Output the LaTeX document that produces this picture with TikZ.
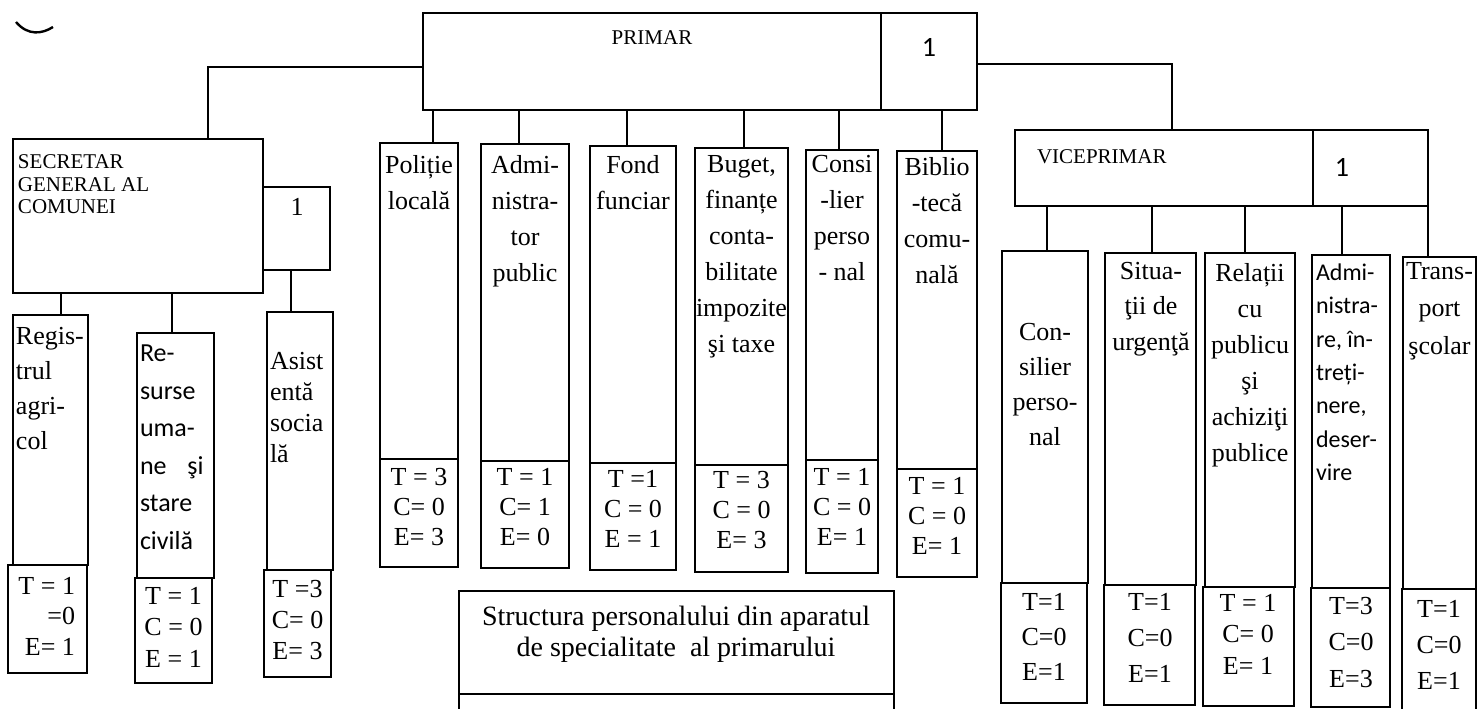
\documentclass[tikz,border=0pt]{standalone}
\usepackage{fontspec}
\setmainfont{Liberation Serif}
\newfontfamily\calfont{Carlito}
\usetikzlibrary{fit}
\newcommand{\bxnode}[5]{\node[bx, fit={(#2,#3) (#4,#5)}] (#1) {};}
\begin{document}
\begin{tikzpicture}[x=0.5pt,y=-0.5pt,
  bx/.style={draw, line width=1pt, inner sep=0pt, outer sep=0pt},
  ln/.style={line width=1.1pt},
  tx/.style={inner sep=0pt, outer sep=0pt, font=\fontsize{13pt}{#1}\selectfont},
  tx/.default=18pt,
  sx/.style={inner sep=0pt, outer sep=0pt, font=\calfont\fontsize{13pt}{#1}\selectfont},
  sx/.default=18pt,
  lbl/.style={inner sep=0pt, outer sep=0pt, font=\fontsize{10.5pt}{11.25pt}\selectfont},
  one/.style={inner sep=0pt, outer sep=0pt, font=\calfont\fontsize{14pt}{14pt}\selectfont}]
\useasboundingbox (0,0) rectangle (1478,708);

% small mark
\draw[line width=1.2pt] (16,22) .. controls (28,36) and (42,34) .. (53,27);

% PRIMAR
\bxnode{prim}{423}{13}{881}{110}
\bxnode{primn}{881}{13}{977}{110}
\node[lbl] (primt) at (652,38) {PRIMAR};
\node[one] (primnt) at (929,47) {1};

% SECRETAR
\bxnode{sec}{13}{139}{263}{293}
\bxnode{secn}{263}{187}{330}{270}
\node[lbl, align=left, anchor=north west] (sect) at (18,155) {SECRETAR\\GENERAL AL\\COMUNEI};
\node[tx] (secnt) at (297,207) {1};

\coordinate (lk) at (208,67);
\draw[ln] (lk -| prim.west) -- (lk) -- (lk |- sec.north);

% Registrul
\bxnode{reg}{13}{315}{88}{565}
\bxnode{regv}{8}{565}{87}{673}
\node[tx=17.5pt, align=left, anchor=north west] (regt) at (16,327) {Regis-\\trul\\agri-\\col};
\node[tx=15.25pt, align=right, anchor=north east] (regvt) at (75,577) {T = 1\\=0\\E= 1};

% Resurse
\bxnode{res}{137}{333}{214}{578}
\bxnode{resv}{135}{578}{212}{683}
\node[sx=18.75pt, align=left, anchor=north west] (rest) at (140,345) {Re-\\surse\\uma-\\ne\hspace{0.8em}şi\\stare\\civilă};
\node[tx=15.75pt, align=center, anchor=north] (resvt) at (173.5,587) {T = 1\\C = 0\\E = 1};

% Asistenta
\bxnode{asi}{267}{312}{333}{570}
\bxnode{asiv}{264}{570}{331}{677}
\node[tx=15.5pt, align=left, anchor=north west] (asit) at (270,352) {Asist\\entă\\socia\\lă};
\node[tx=15.5pt, align=center, anchor=north] (asivt) at (297.5,580) {T =3\\C= 0\\E= 3};

\coordinate (c1) at (61,0);
\coordinate (c2) at (172,0);
\coordinate (c3) at (291,0);
\draw[ln] (c1 |- sec.south) -- (c1 |- reg.north);
\draw[ln] (c2 |- sec.south) -- (c2 |- res.north);
\draw[ln] (c3 |- secn.south) -- (c3 |- asi.north);

% middle columns
\bxnode{pol}{380}{143}{458}{459}
\bxnode{polv}{380}{459}{458}{567}
\bxnode{adm}{481}{144}{569}{461}
\bxnode{admv}{481}{461}{569}{568}
\bxnode{fon}{590}{146}{676}{463}
\bxnode{fonv}{590}{463}{676}{570}
\bxnode{bug}{695}{148}{788}{465}
\bxnode{bugv}{695}{465}{788}{572}
\bxnode{con}{806}{150}{878}{460}
\bxnode{conv}{806}{460}{878}{573}
\bxnode{bib}{897}{151}{977}{469}
\bxnode{bibv}{897}{469}{977}{577}

\node[tx, align=center, anchor=north] (polt) at (419,155) {Poliție\\locală};
\node[tx, align=center, anchor=north] (admt) at (525,155) {Admi-\\nistra-\\tor\\public};
\node[tx, align=center, anchor=north] (font) at (633,155) {Fond\\funciar};
\node[tx, align=center, anchor=north] (bugt) at (741.5,155) {Buget,\\finanțe\\conta-\\bilitate\\impozite\\şi taxe};
\node[tx, align=center, anchor=north] (cont) at (842,155) {Consi\\-lier\\perso\\- nal};
\node[tx, align=center, anchor=north] (bibt) at (937,157) {Biblio\\-tecă\\comu-\\nală};

\node[tx=15pt, align=center, anchor=north] (polvt) at (419,468) {T = 3\\C= 0\\E= 3};
\node[tx=15pt, align=center, anchor=north] (admvt) at (525,468) {T = 1\\C= 1\\E= 0};
\node[tx=15pt, align=center, anchor=north] (fonvt) at (633,470) {T =1\\C = 0\\E = 1};
\node[tx=15pt, align=center, anchor=north] (bugvt) at (741.5,471) {T = 3\\C = 0\\E= 3};
\node[tx=15pt, align=center, anchor=north] (convt) at (842,468) {T = 1\\C = 0\\E= 1};
\node[tx=15pt, align=center, anchor=north] (bibvt) at (937,477) {T = 1\\C = 0\\E= 1};

\coordinate (m1) at (433,0);
\coordinate (m2) at (519,0);
\coordinate (m3) at (627,0);
\coordinate (m4) at (744,0);
\coordinate (m5) at (839,0);
\coordinate (m6) at (942,0);
\draw[ln] (m1 |- prim.south) -- (m1 |- pol.north);
\draw[ln] (m2 |- prim.south) -- (m2 |- adm.north);
\draw[ln] (m3 |- prim.south) -- (m3 |- fon.north);
\draw[ln] (m4 |- prim.south) -- (m4 |- bug.north);
\draw[ln] (m5 |- prim.south) -- (m5 |- con.north);
\draw[ln] (m6 |- primn.south) -- (m6 |- bib.north);

% VICEPRIMAR
\bxnode{vice}{1015}{130}{1313}{206}
\bxnode{vicen}{1313}{130}{1428}{206}
\node[lbl, anchor=west] (vicet) at (1037,157) {VICEPRIMAR};
\node[one] (vicent) at (1342,167) {1};

\coordinate (rk) at (1172,64);
\draw[ln] (rk -| primn.east) -- (rk) -- (rk |- vice.north);

% right columns
\bxnode{cs}{1002}{251}{1088}{583}
\bxnode{csv}{1001}{583}{1087}{703}
\bxnode{sit}{1105}{253}{1196}{585}
\bxnode{sitv}{1104}{585}{1195}{705}
\bxnode{rel}{1205}{253}{1295}{587}
\bxnode{relv}{1203}{587}{1294}{706}
\bxnode{adt}{1312}{255}{1390}{588}
\bxnode{adtv}{1311}{588}{1390}{707}
\bxnode{tra}{1403}{257}{1476}{589}
\bxnode{trav}{1402}{589}{1476}{714}

\node[tx=17.5pt, align=center, anchor=north] (cst) at (1045,323) {Con-\\silier\\perso-\\nal};
\node[tx=17.75pt, align=center, anchor=north] (sitt) at (1151,262) {Situa-\\ţii de\\urgenţă};
\node[tx=18pt, align=center, anchor=north] (relt) at (1250,263) {Relații\\cu\\publicu\\şi\\achiziţi\\publice};
\node[sx=16.65pt, align=left, anchor=north west, font=\calfont\fontsize{12pt}{16.65pt}\selectfont] (adtt) at (1316,264) {Admi-\\nistra-\\re, în-\\treți-\\nere,\\deser-\\vire};
\node[tx=18.75pt, align=center, anchor=north] (trat) at (1439.5,262) {Trans-\\port\\şcolar};

\node[tx=17.5pt, align=center, anchor=north] (csvt) at (1044,593) {T=1\\C=0\\E=1};
\node[tx=18pt, align=center, anchor=north] (sitvt) at (1150,593) {T=1\\C=0\\E=1};
\node[tx=15.75pt, align=center, anchor=north] (relvt) at (1248,594) {T = 1\\C= 0\\E= 1};
\node[tx=18.25pt, align=center, anchor=north] (adtvt) at (1351,597) {T=3\\C=0\\E=3};
\node[tx=18pt, align=center, anchor=north] (travt) at (1439,600) {T=1\\C=0\\E=1};

\coordinate (v1) at (1047,0);
\coordinate (v2) at (1152,0);
\coordinate (v3) at (1245,0);
\coordinate (v4) at (1342,0);
\draw[ln] (v1 |- vice.south) -- (v1 |- cs.north);
\draw[ln] (v2 |- vice.south) -- (v2 |- sit.north);
\draw[ln] (v3 |- vice.south) -- (v3 |- rel.north);
\draw[ln] (v4 |- vicen.south) -- (v4 |- adt.north);
\draw[ln] (vicen.south east) -- (vicen.south east |- tra.north);

% Structura
\bxnode{str}{459}{591}{894}{694}
\node[inner sep=0pt, outer sep=0pt, font=\fontsize{14pt}{15.5pt}\selectfont, align=center, anchor=north] (strt) at (676,606) {Structura personalului din aparatul\\de specialitate\ \ al primarului};
\draw[bx] (str.south west) -- ++(0,30);
\draw[bx] (str.south east) -- ++(0,30);
\end{tikzpicture}
\end{document}
